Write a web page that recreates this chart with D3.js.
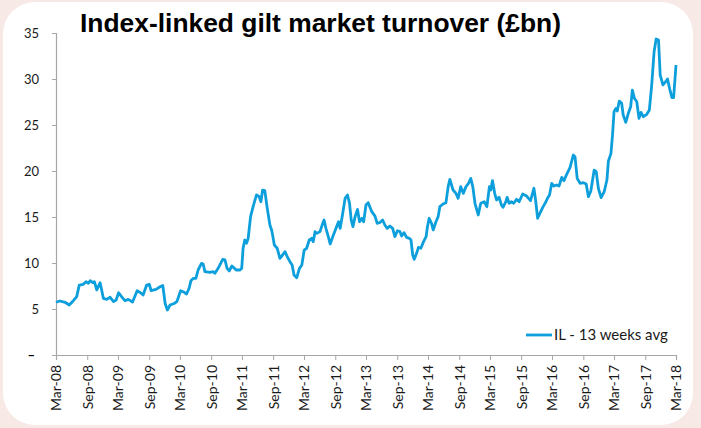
<!DOCTYPE html>
<html>
<head>
<meta charset="utf-8">
<script src="https://cdn.jsdelivr.net/npm/d3@7"></script>
<style>
  html, body { margin: 0; padding: 0; background: #f6e9e6; }
  svg { display: block; }
</style>
</head>
<body>
<svg id="chart"></svg>
<script>
// weekly-ish readings of the 13 week average, £bn
const dates = [
  "2008-03-01","2008-03-24","2008-04-23","2008-05-18","2008-06-11","2008-07-01","2008-07-16","2008-08-09",
  "2008-08-25","2008-09-08","2008-09-18","2008-10-04","2008-10-13","2008-10-27","2008-11-16","2008-12-05",
  "2008-12-25","2009-01-14","2009-02-03","2009-02-18","2009-03-05","2009-03-22","2009-04-11","2009-05-01",
  "2009-05-26","2009-06-22","2009-07-12","2009-07-27","2009-08-17","2009-09-02","2009-09-12","2009-10-11",
  "2009-11-04","2009-11-20","2009-12-04","2009-12-17","2010-01-02","2010-01-26","2010-02-11","2010-02-20",
  "2010-03-05","2010-03-20","2010-04-09","2010-04-24","2010-05-05","2010-05-18","2010-06-03","2010-06-16",
  "2010-07-06","2010-07-16","2010-07-26","2010-08-24","2010-09-13","2010-09-23","2010-10-12","2010-11-08",
  "2010-11-21","2010-12-04","2010-12-16","2011-01-01","2011-01-10","2011-01-26","2011-02-18","2011-02-28",
  "2011-03-08","2011-03-18","2011-03-28","2011-04-07","2011-04-21","2011-05-06","2011-05-26","2011-06-11",
  "2011-06-21","2011-07-01","2011-07-14","2011-07-27","2011-08-13","2011-08-23","2011-08-29","2011-09-08",
  "2011-09-25","2011-10-11","2011-10-27","2011-11-10","2011-11-23","2011-12-09","2011-12-22","2012-01-02",
  "2012-01-18","2012-02-03","2012-02-17","2012-03-02","2012-03-16","2012-04-01","2012-04-15","2012-04-24",
  "2012-05-05","2012-05-15","2012-06-03","2012-06-19","2012-06-27","2012-07-08","2012-07-22","2012-08-02",
  "2012-08-21","2012-09-20","2012-09-30","2012-10-15","2012-10-29","2012-11-12","2012-11-24","2012-12-04",
  "2012-12-14","2012-12-27","2013-01-10","2013-01-22","2013-02-05","2013-02-15","2013-03-01","2013-03-14",
  "2013-04-04","2013-04-23","2013-05-06","2013-05-22","2013-06-07","2013-06-20","2013-07-04","2013-07-20",
  "2013-08-05","2013-08-18","2013-09-02","2013-09-17","2013-09-27","2013-10-11","2013-10-26","2013-11-11",
  "2013-11-21","2013-12-01","2013-12-10","2013-12-24","2014-01-04","2014-01-18","2014-02-03","2014-02-18",
  "2014-02-26","2014-03-08","2014-03-22","2014-04-01","2014-04-17","2014-04-30","2014-05-10","2014-05-29",
  "2014-06-15","2014-06-28","2014-07-08","2014-07-18","2014-07-27","2014-08-13","2014-08-26","2014-09-10",
  "2014-09-25","2014-10-11","2014-10-24","2014-11-08","2014-11-20","2014-12-03","2014-12-22","2015-01-06",
  "2015-01-26","2015-02-11","2015-02-26","2015-03-06","2015-03-16","2015-03-29","2015-04-09","2015-04-24",
  "2015-05-08","2015-05-17","2015-06-03","2015-06-10","2015-06-22","2015-07-06","2015-07-19","2015-08-05",
  "2015-08-20","2015-09-10","2015-10-03","2015-10-26","2015-11-15","2015-11-25","2015-12-07","2015-12-20",
  "2016-01-06","2016-01-20","2016-02-03","2016-02-15","2016-02-28","2016-03-12","2016-03-28","2016-04-11",
  "2016-04-27","2016-05-10","2016-05-29","2016-06-15","2016-07-04","2016-07-14","2016-07-27","2016-08-13",
  "2016-09-02","2016-09-18","2016-10-01","2016-10-15","2016-11-04","2016-11-16","2016-11-29","2016-12-15",
  "2017-01-02","2017-01-18","2017-01-27","2017-02-11","2017-02-20","2017-03-01","2017-03-12","2017-03-20",
  "2017-04-01","2017-04-15","2017-04-24","2017-05-09","2017-05-24","2017-06-07","2017-06-17","2017-06-29",
  "2017-07-13","2017-07-26","2017-08-07","2017-08-21","2017-09-10","2017-09-25","2017-10-09","2017-10-23",
  "2017-11-04","2017-11-18","2017-11-28","2017-12-14","2017-12-27","2018-01-10","2018-01-22","2018-02-05",
  "2018-02-15","2018-03-01"
];
const turnover = [
  5.73,5.87,5.73,5.43,5.9,6.34,7.6,7.68,
  7.97,7.8,8.08,7.86,7.97,7.07,7.86,6.16,
  6.05,6.27,5.8,5.98,6.77,6.34,5.9,6.05,
  5.76,6.99,6.77,6.52,7.6,7.68,6.99,7.14,
  7.42,7.55,5.6,4.89,5.43,5.6,5.8,6.27,
  6.99,6.88,6.63,7.25,8.08,8.33,8.33,9.24,
  9.96,9.89,9.06,8.98,9.06,8.88,9.42,10.4,
  10.33,9.42,9.13,9.67,9.53,9.24,9.24,9.42,
  11.6,12.5,12.14,12.68,15.04,16.12,17.4,17.2,
  16.66,17.93,17.86,16.12,14.13,13.59,13.04,11.96,
  11.6,10.51,10.87,11.23,10.69,10.14,9.78,8.7,
  8.4,9.42,9.78,11.41,11.6,12.5,12.68,12.32,
  13.41,13.22,13.41,14.31,14.67,13.77,12.86,12.07,
  13.04,14.49,13.77,15.4,17.03,17.39,16.49,14.67,
  13.95,15.04,15.83,14.49,14.86,14.49,16.3,16.56,
  15.58,15.1,14.31,14.4,14.67,14.13,13.77,14.02,
  13.77,12.86,13.51,13.41,12.93,13.3,12.79,12.68,
  12.5,10.87,10.4,11.05,11.7,11.6,12.32,12.86,
  13.95,14.86,14.31,13.59,14.49,15.04,16.12,16.41,
  16.56,18.3,19.09,18.48,17.93,17.57,17.03,18.3,
  17.57,18.3,18.59,19.2,18.3,16.49,15.22,16.49,
  16.66,16.12,18.3,17.93,18.96,17.57,16.85,17.14,
  16.3,16.05,16.66,17.14,16.49,16.66,16.49,16.92,
  16.66,17.5,17.28,16.77,18.12,16.85,14.86,15.4,
  16.05,16.49,17.03,17.39,18.66,18.37,18.48,18.37,
  19.31,18.95,19.75,20.4,21.74,21.56,19.2,18.66,
  18.73,18.59,17.21,17.8,20.1,19.93,18.1,17.1,
  17.75,19.02,21.09,21.92,23.91,26.45,26.81,26.52,
  27.6,27.35,26.09,25.29,26.27,26.99,28.8,27.9,
  27.53,25.72,26.37,25.9,26.16,26.63,29.35,32.97,
  34.35,34.24,30.43,29.35,29.64,30.0,28.99,27.97,
  27.97,31.52
];
const yTicks = [0, 5, 10, 15, 20, 25, 30, 35];
const xTickDates = [
  "2008-03-01","2008-09-01","2009-03-01","2009-09-01","2010-03-01","2010-09-01","2011-03-01",
  "2011-09-01","2012-03-01","2012-09-01","2013-03-01","2013-09-01","2014-03-01","2014-09-01",
  "2015-03-01","2015-09-01","2016-03-01","2016-09-01","2017-03-01","2017-09-01","2018-03-01"
];
const titleText = "Index-linked gilt market turnover (£bn)";
const legendText = "IL - 13 weeks avg";

const W = 701, H = 428;
const margin = { top: 33, right: 25, bottom: 73, left: 56 },
    width = W - margin.left - margin.right,
    height = H - margin.top - margin.bottom;

const parse = d3.timeParse("%Y-%m-%d");
const fmt = d3.timeFormat("%b-%y");
const lineBlue = "#0d9fdc";

const root = d3.select("#chart")
    .attr("width", W)
    .attr("height", H);

// white card on the pink page
root.append("rect")
    .attr("x", 3).attr("y", 2)
    .attr("width", 690).attr("height", 423)
    .attr("rx", 32).attr("ry", 32)
    .attr("fill", "#ffffff");

const svg = root.append("g")
    .attr("transform", `translate(${margin.left},${margin.top})`);

const x = d3.scaleTime()
    .domain([parse(xTickDates[0]), parse(xTickDates[xTickDates.length - 1])])
    .range([0, width]);

const y = d3.scaleLinear()
    .domain([0, 35])
    .range([height, 0]);

// y axis
const yAxis = d3.axisLeft(y)
    .tickValues(yTicks)
    .tickSize(4)
    .tickPadding(13)
    .tickFormat(d => d === 0 ? "–" : d);

const gy = svg.append("g").call(yAxis);
gy.select(".domain").attr("stroke", "#a6a6a6").attr("stroke-width", 1.2);
gy.selectAll(".tick line").attr("stroke", "#a6a6a6");
gy.selectAll(".tick text")
    .attr("font-family", "Lato, sans-serif")
    .attr("font-size", 13)
    .attr("fill", "#1a1a1a");
gy.selectAll(".tick").filter(d => d === 0).select("text")
    .attr("dx", "-4")
    .attr("font-weight", "bold")
    .attr("fill", "#000");
gy.selectAll(".tick").filter(d => d === 0).select("line").remove();

// x axis
const xAxis = d3.axisBottom(x)
    .tickValues(xTickDates.map(parse))
    .tickSize(5)
    .tickFormat(fmt);

const gx = svg.append("g")
    .attr("transform", `translate(0,${height})`)
    .call(xAxis);
gx.select(".domain").attr("stroke", "#a6a6a6").attr("stroke-width", 1.2);
gx.selectAll(".tick line").attr("stroke", "#a6a6a6");
gx.selectAll(".tick text")
    .attr("font-family", "Lato, sans-serif")
    .attr("font-size", 14)
    .attr("fill", "#1a1a1a")
    .style("text-anchor", "end")
    .attr("dx", "-10")
    .attr("dy", "0.35em")
    .attr("y", 0)
    .attr("transform", "rotate(-90)");

// the series
const line = d3.line()
    .x((_, i) => x(parse(dates[i])))
    .y(v => y(v));

svg.append("path")
    .datum(turnover)
    .attr("fill", "none")
    .attr("stroke", lineBlue)
    .attr("stroke-width", 2.8)
    .attr("stroke-linejoin", "round")
    .attr("d", line);

// title
root.append("text")
    .attr("x", 80)
    .attr("y", 32)
    .attr("font-family", "'Liberation Sans', Arial, sans-serif")
    .attr("font-weight", "bold")
    .attr("font-size", 26.4)
    .attr("fill", "#000")
    .text(titleText);

// legend
const lg = root.append("g").attr("transform", "translate(526,335)");
lg.append("line")
    .attr("x1", 0).attr("x2", 26)
    .attr("y1", 0).attr("y2", 0)
    .attr("stroke", lineBlue)
    .attr("stroke-width", 2.8);
lg.append("text")
    .attr("x", 28)
    .attr("y", 0)
    .attr("dy", "0.36em")
    .attr("font-family", "Lato, sans-serif")
    .attr("font-size", 15)
    .attr("fill", "#1a1a1a")
    .text(legendText);
</script>
</body>
</html>
